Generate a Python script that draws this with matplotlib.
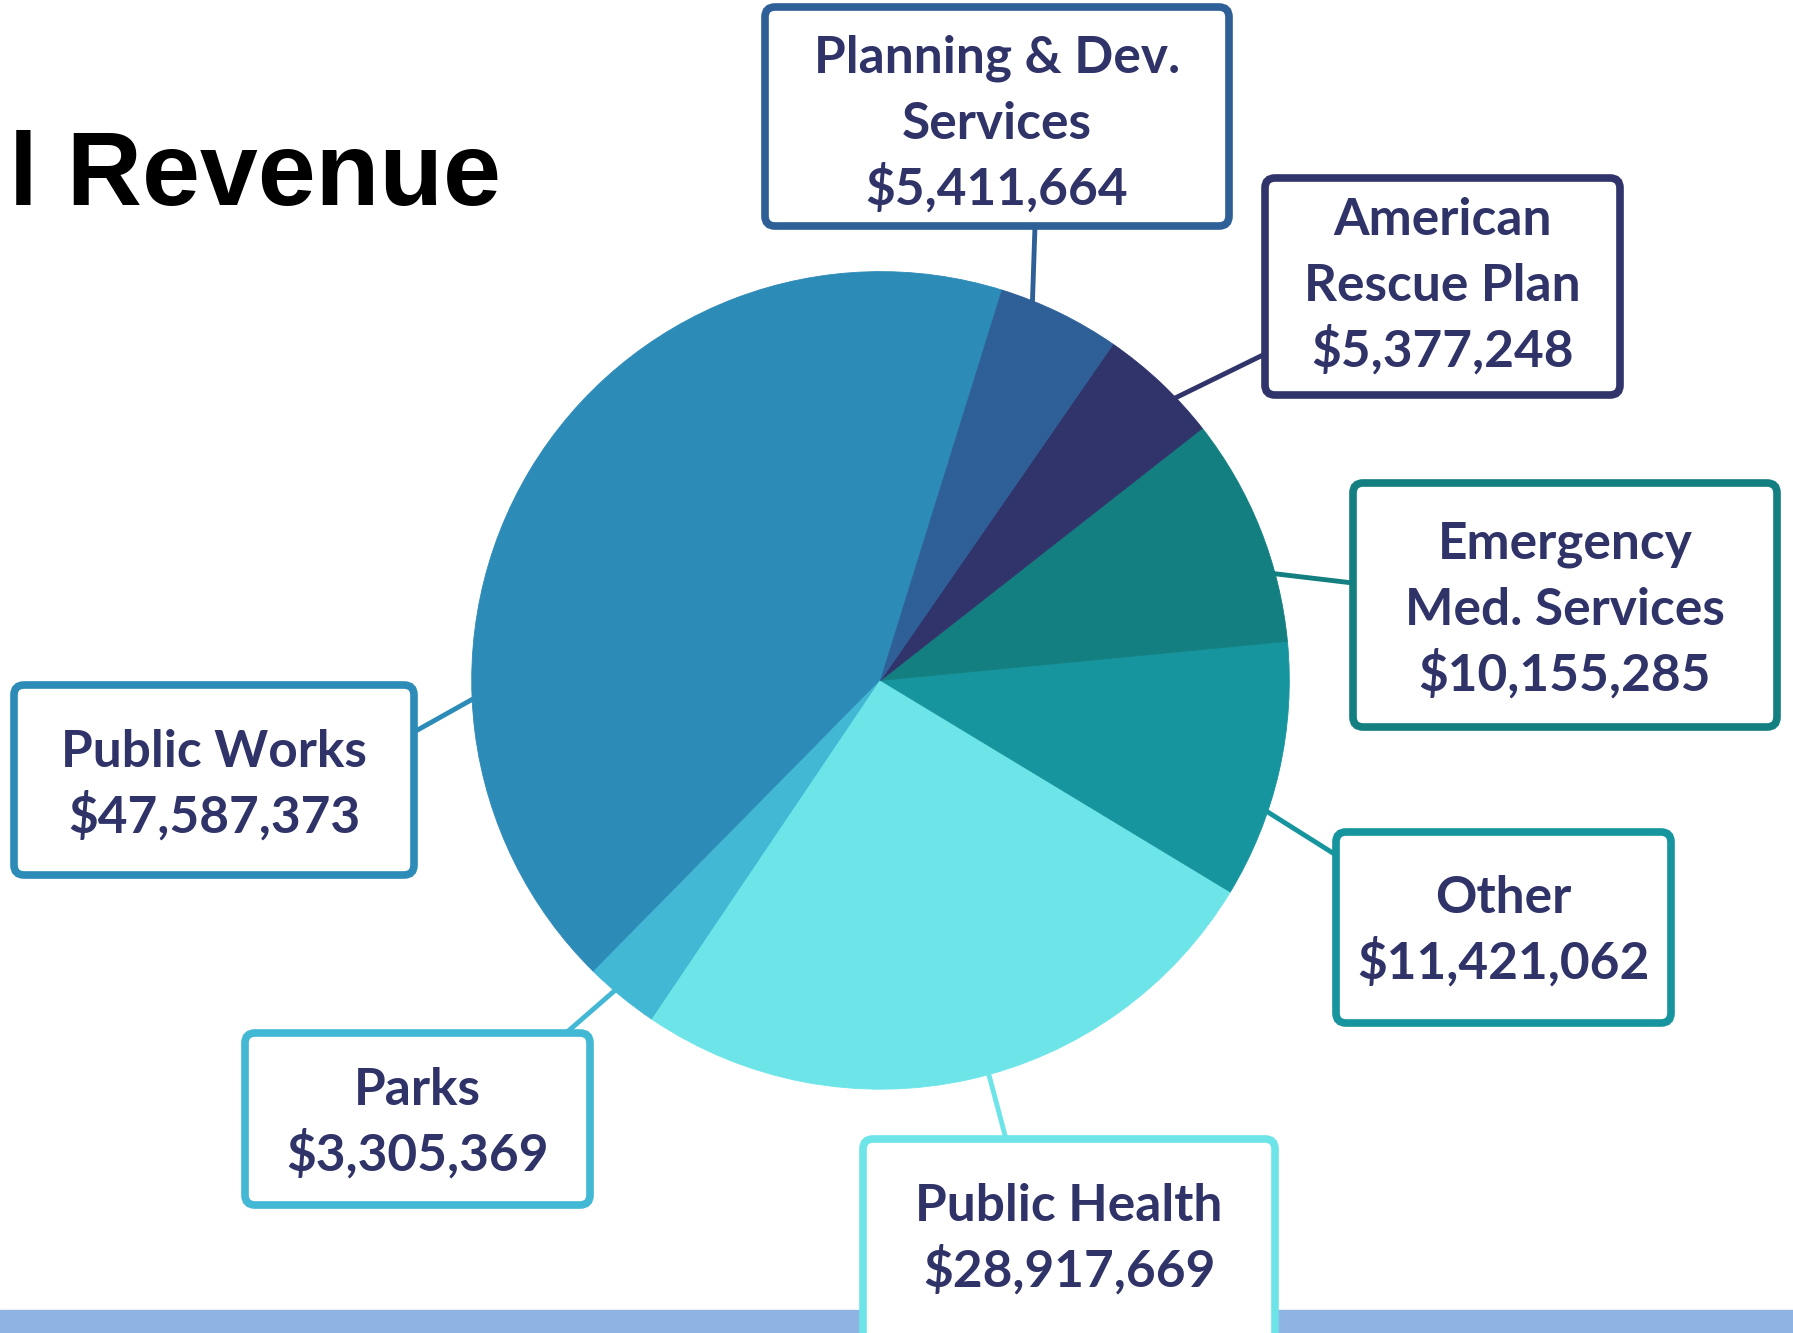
import matplotlib
matplotlib.use("Agg")
import matplotlib.pyplot as plt
from matplotlib.patches import FancyBboxPatch, Rectangle

# data
names = ["Public Works", "Parks", "Public Health", "Other",
         "Emergency\nMed. Services", "American\nRescue Plan",
         "Planning & Dev.\nServices"]
values = [47587373, 3305369, 28917669, 11421062, 10155285, 5377248, 5411664]
colors = ["#2D8BB8", "#42B8D5", "#6DE5E8", "#17959E", "#137F80",
          "#30346B", "#2E5F97"]

W, H = 1793, 1333
TXT = "#2F3368"

def Y(y):
    # image pixel row -> data y
    return H - y

fig = plt.figure(figsize=(W / 100, H / 100), dpi=100)
ax = fig.add_axes([0, 0, 1, 1])

cx, cy, r = 880.5, 680.4, 408.8
wedges, _ = ax.pie(values, colors=colors, startangle=72.7, counterclock=True,
                   radius=r, center=(cx, Y(cy)))
for w in wedges:
    w.set_edgecolor(w.get_facecolor())
    w.set_linewidth(0.6)
    w.set_zorder(3)
ax.set_xlim(0, W)
ax.set_ylim(0, H)
ax.set_aspect("equal")
ax.axis("off")

# bottom band
ax.add_patch(Rectangle((0, 0), W, H - 1310, color="#8FB4E3", zorder=1))

# title (cut off at the left edge)
ax.text(9, Y(205), "l Revenue", fontsize=75, fontweight="bold",
        family="Liberation Sans", color="black", ha="left", va="baseline")

# box layout: x0, y0, x1, y1, first line centre y, leader start, leader end
layout = [
    (14, 685, 414, 875, 749, (414, 732), (480, 695)),
    (245, 1033, 590, 1205, 1087, (566, 1033), (620, 986)),
    (863, 1139, 1275, 1345, 1203, (1006, 1139), (985, 1060)),
    (1336, 832, 1671, 1023, 895, (1336, 855), (1255, 804)),
    (1353, 483, 1777, 727, 541, (1353, 583), (1260, 572)),
    (1265, 178, 1620, 395, 217, (1265, 354), (1165, 403)),
    (765, 7, 1229, 226, 55, (1035, 226), (1032, 315)),
]
pitch = 66

for name, val, col, (x0, y0, x1, y1, ly, p0, p1) in zip(names, values, colors, layout):
    ax.plot([p0[0], p1[0]], [Y(p0[1]), Y(p1[1])], color=col, lw=3.5,
            zorder=2, solid_capstyle="butt")
    ax.add_patch(FancyBboxPatch((x0, Y(y1)), x1 - x0, y1 - y0,
                                boxstyle="round,pad=0,rounding_size=10",
                                facecolor="white", edgecolor=col, lw=5.5,
                                zorder=4))
    lines = name.split("\n") + [f"${val:,}"]
    xc = (x0 + x1) / 2
    for i, s in enumerate(lines):
        ax.text(xc, Y(ly + i * pitch + 18), s, fontsize=37, fontweight="bold",
                family="Lato", color=TXT, ha="center", va="baseline", zorder=5)

fig.savefig("out.png", dpi=100, facecolor="white")
